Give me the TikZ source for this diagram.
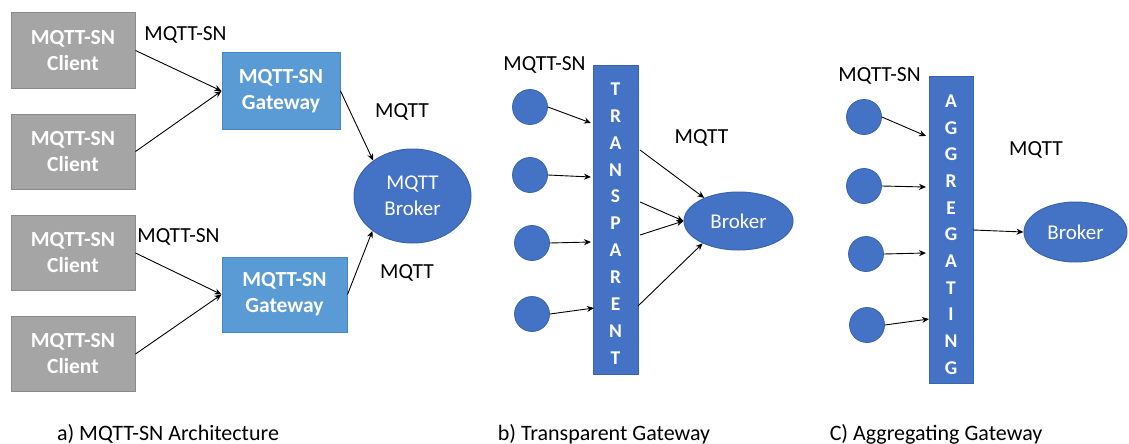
\documentclass[tikz,border=0pt]{standalone}
\usepackage{fontspec}
\setmainfont{Carlito}
\usetikzlibrary{arrows.meta,shapes.geometric}
\definecolor{clientfill}{HTML}{A5A5A5}
\definecolor{clientdraw}{HTML}{8A8A8A}
\definecolor{gwfill}{HTML}{5B9BD5}
\definecolor{gwdraw}{HTML}{4A86BE}
\definecolor{brokerfill}{HTML}{4472C4}
\definecolor{brokerdraw}{HTML}{3A64AE}
\begin{document}
\begin{tikzpicture}[x=1pt,y=-1pt,
  client/.style={rectangle,fill=clientfill,draw=clientdraw,line width=1pt,minimum width=124pt,minimum height=75pt,inner sep=0pt,text=white,font=\fontsize{21.5}{26}\selectfont\bfseries,align=center},
  gw/.style={rectangle,fill=gwfill,draw=gwdraw,line width=1pt,inner sep=0pt,text=white,font=\fontsize{21.5}{26}\selectfont\bfseries,align=center},
  broker/.style={ellipse,fill=brokerfill,draw=brokerdraw,line width=1pt,inner sep=0pt,text=white,font=\fontsize{21}{26}\selectfont,align=center},
  dev/.style={circle,fill=brokerfill,draw=brokerdraw,line width=0.8pt,minimum size=35pt,inner sep=0pt},
  bar/.style={rectangle,fill=brokerfill,draw=brokerdraw,line width=1pt,inner sep=0pt},
  barletter/.style={text=white,font=\fontsize{19.5}{22}\selectfont\bfseries,inner sep=0pt},
  lbl/.style={font=\fontsize{21.5}{25}\selectfont,inner sep=0pt,text=black},
  captext/.style={font=\fontsize{22}{25}\selectfont,inner sep=0pt,text=black},
  conn/.style={draw=black,line width=0.9pt,-{Stealth[length=7pt,width=6pt]}}
]
\useasboundingbox (0,0) rectangle (1129,444);

% ---------- a) ----------
\node[client] (c1) at (73,50.5) {MQTT-SN\\Client};
\node[client] (c2) at (73,151.5) {MQTT-SN\\Client};
\node[client] (c3) at (73,253) {MQTT-SN\\Client};
\node[client] (c4) at (73,354) {MQTT-SN\\Client};
\node[gw,minimum width=118pt,minimum height=76pt] (g1) at (281,91) {MQTT-SN\\Gateway};
\node[gw,minimum width=125pt,minimum height=75pt] (g2) at (284.5,294.5) {MQTT-SN\\Gateway};
\node[broker,minimum width=117pt,minimum height=94pt] (ba) at (412.5,196) {MQTT\\Broker};

\draw[conn] (c1.east) -- (g1.west);
\draw[conn] (c2.east) -- (g1.west);
\draw[conn] (c3.east) -- (g2.west);
\draw[conn] (c4.east) -- (g2.west);
\draw[conn] (g1.east) -- (ba.138);
\draw[conn] (g2.east) -- (ba.221);

\node[lbl] (la1) at (185.5,35) {MQTT-SN};
\node[lbl] (la2) at (178.5,237) {MQTT-SN};
\node[lbl] (la3) at (402,112) {MQTT};
\node[lbl] (la4) at (407,273) {MQTT};

% ---------- b) ----------
\node[bar,minimum width=45pt,minimum height=308pt] (tb) at (615.5,220) {};
\foreach \ch [count=\i from 0] in {T,R,A,N,S,P,A,R,E,N,T}
  \node[barletter] (tl\i) at (615.5,89+26.9*\i) {\ch};
\node[dev] (b1) at (530,107) {};
\node[dev] (b2) at (530,175) {};
\node[dev] (b3) at (532,243) {};
\node[dev] (b4) at (532,314) {};
\coordinate (tb1) at (591,123);
\coordinate (tb2) at (591,177);
\coordinate (tb3) at (591,242);
\coordinate (tb4) at (594,308);
\draw[conn] (b1.east) -- (tb1);
\draw[conn] (b2.east) -- (tb2);
\draw[conn] (b3.east) -- (tb3);
\draw[conn] (b4.east) -- (tb4);
\node[broker,minimum width=109pt,minimum height=58pt] (bb) at (738.5,221) {Broker};
\coordinate (to1) at (640,150);
\coordinate (to2) at (640,202);
\coordinate (to3) at (640,235);
\coordinate (to4) at (638,306);
\draw[conn] (to1) -- (bb.146);
\draw[conn] (to2) -- (bb.west);
\draw[conn] (to3) -- (bb.west);
\draw[conn] (to4) -- (bb.212);
\node[lbl] (lb1) at (544.5,65) {MQTT-SN};
\node[lbl] (lb2) at (701.5,138) {MQTT};

% ---------- c) ----------
\node[bar,minimum width=44pt,minimum height=307pt] (ab) at (951,229.5) {};
\foreach \ch [count=\i from 0] in {A,G,G,R,E,G,A,T,I,N,G}
  \node[barletter] (al\i) at (951,101+26.7*\i) {\ch};
\node[dev] (d1) at (864,117) {};
\node[dev] (d2) at (864,186) {};
\node[dev] (d3) at (866,254) {};
\node[dev] (d4) at (867,325) {};
\coordinate (ab1) at (926,136);
\coordinate (ab2) at (926,187);
\coordinate (ab3) at (926,253);
\coordinate (ab4) at (929,319);
\draw[conn] (d1.east) -- (ab1);
\draw[conn] (d2.east) -- (ab2);
\draw[conn] (d3.east) -- (ab3);
\draw[conn] (d4.east) -- (ab4);
\node[broker,minimum width=103pt,minimum height=60pt] (bc) at (1075.5,232) {Broker};
\coordinate (ao) at (973,230);
\draw[conn] (ao) -- (bc.west);
\node[lbl] (lc1) at (879.5,76) {MQTT-SN};
\node[lbl] (lc2) at (1036,150) {MQTT};

% ---------- captions ----------
\node[captext] (capa) at (168,434) {a) MQTT-SN Architecture};
\node[captext] (capb) at (604,434) {b) Transparent Gateway};
\node[captext] (capc) at (936,434) {C) Aggregating Gateway};
\end{tikzpicture}
\end{document}
